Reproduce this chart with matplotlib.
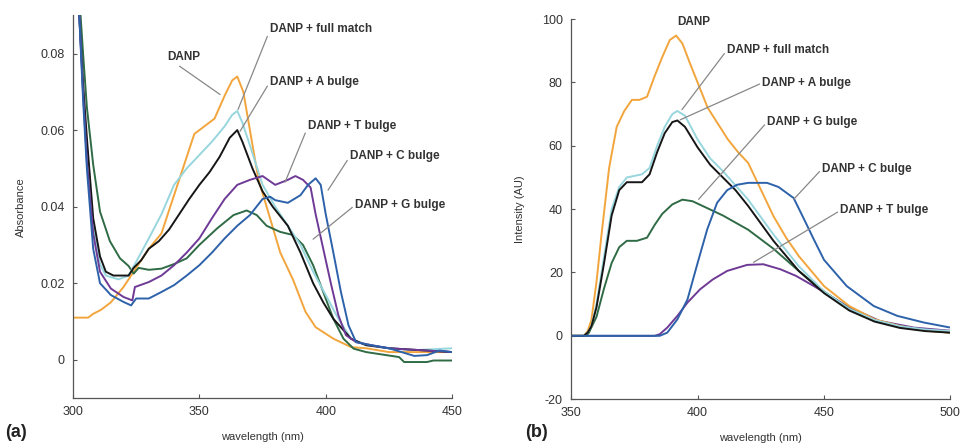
import matplotlib
matplotlib.use("Agg")
import matplotlib.pyplot as plt

plt.rcParams['font.family'] = ['Liberation Sans', 'DejaVu Sans']
plt.rcParams['axes.unicode_minus'] = False

#   Colours
C_DANP = "#F2A53C"
C_FULL = "#98D6DE"
C_ABUL = "#161616"
C_GBUL = "#2F6B45"
C_TBUL = "#6E3A96"
C_CBUL = "#2D62AA"
GRID_GREY = "#555555"

# (a) absorbance spectra
abs_wl_danp = [300, 306, 308, 311, 315, 320, 325, 330, 335, 337, 340, 345, 348, 352, 356, 360,
               363, 365, 367.4, 370, 373.4, 376.6, 382, 387, 392, 396, 403, 410, 416, 425, 450]
abs_danp = [0.011, 0.011, 0.012, 0.013, 0.015, 0.019, 0.024, 0.029, 0.033, 0.037, 0.043, 0.053,
            0.059, 0.061, 0.063, 0.069, 0.073, 0.074, 0.070, 0.060, 0.047, 0.040, 0.028, 0.021,
            0.0125, 0.0085, 0.0055, 0.0033, 0.003, 0.002, 0.002]

abs_wl_full = [300, 302.5, 304, 305.5, 308, 310.7, 313, 318, 322, 325, 330, 335, 340, 345, 350,
               355, 360, 363, 365, 367, 370, 375, 380, 385, 390, 395, 400, 405, 410, 415, 425,
               435, 450]
abs_full = [0.13, 0.09, 0.07, 0.056, 0.035, 0.025, 0.022, 0.021, 0.022, 0.0256, 0.0317, 0.038,
            0.0457, 0.050, 0.0535, 0.057, 0.061, 0.064, 0.065, 0.062, 0.056, 0.0457, 0.040,
            0.035, 0.030, 0.023, 0.0169, 0.0107, 0.0055, 0.004, 0.003, 0.0025, 0.003]

abs_wl_abul = [300, 302.5, 304, 305.5, 308, 310.7, 313, 316, 322, 324, 327, 330, 334, 338, 342,
               346, 350, 354, 358, 362, 365, 367, 371, 375, 379, 385, 390, 395, 399, 403, 410,
               416, 425, 450]
abs_abul = [0.13, 0.09, 0.072, 0.058, 0.037, 0.027, 0.023, 0.022, 0.022, 0.024, 0.026, 0.029,
            0.031, 0.034, 0.038, 0.042, 0.0457, 0.049, 0.053, 0.058, 0.060, 0.057, 0.050, 0.044,
            0.040, 0.035, 0.028, 0.020, 0.015, 0.0107, 0.0055, 0.0038, 0.003, 0.002]

abs_wl_gbul = [300, 302.5, 304, 305.5, 308, 310.7, 314.6, 318.6, 322, 324, 326, 330, 335, 340,
               345, 350, 357, 363.5, 368.7, 372.7, 376.6, 382, 387, 391, 395, 399, 403, 407,
               411, 416, 429, 431, 440, 442.6, 450]
abs_gbul = [0.13, 0.095, 0.08, 0.066, 0.051, 0.0387, 0.031, 0.0265, 0.0245, 0.0225, 0.024,
            0.0235, 0.0238, 0.025, 0.0265, 0.030, 0.0343, 0.0378, 0.039, 0.0378, 0.035, 0.0334,
            0.0326, 0.030, 0.0247, 0.0177, 0.0107, 0.0055, 0.0029, 0.002, 0.0007, -0.0006,
            -0.0006, -0.0002, -0.0002]

abs_wl_tbul = [300, 302.5, 304, 305.5, 308, 310.7, 315, 320, 323.5, 324.5, 330, 335, 340, 345,
               350, 355, 360, 365, 370, 375, 380, 385, 388, 391, 394, 396, 399, 402, 405, 408,
               412, 418, 425, 450]
abs_tbul = [0.13, 0.09, 0.07, 0.052, 0.033, 0.023, 0.0186, 0.0164, 0.0155, 0.019, 0.0203,
            0.022, 0.0247, 0.028, 0.0317, 0.037, 0.042, 0.0457, 0.047, 0.048, 0.0457, 0.047,
            0.048, 0.047, 0.045, 0.038, 0.029, 0.020, 0.0116, 0.0064, 0.0046, 0.0038, 0.003,
            0.002]

abs_wl_cbul = [300, 302.5, 304, 305.5, 308, 310.7, 315, 320, 323, 325, 330, 335, 340, 345, 350,
               355, 360, 365, 370, 375, 378, 380, 385, 390, 393, 396, 398, 400, 403, 406, 409,
               412, 418, 425, 430, 435, 440, 445, 450]
abs_cbul = [0.13, 0.09, 0.068, 0.05, 0.029, 0.020, 0.0169, 0.0151, 0.0142, 0.016, 0.016,
            0.0177, 0.0195, 0.022, 0.0247, 0.028, 0.0317, 0.035, 0.0378, 0.042, 0.0426, 0.0417,
            0.041, 0.043, 0.0457, 0.0474, 0.0457, 0.038, 0.028, 0.0177, 0.009, 0.0046, 0.0038,
            0.003, 0.002, 0.001, 0.0012, 0.0024, 0.002]

# (b) fluorescence emission spectra
fl_wl_danp = [350, 355, 356.5, 358, 360, 362, 365, 368, 371, 374, 377, 380, 383, 386, 389,
              391.5, 394, 397, 400, 404, 408, 412, 416, 420, 425, 430, 435, 440, 450, 460, 470,
              480, 490, 500]
fl_danp = [0, 0, 1.5, 5, 17, 32, 53, 66, 71, 74.5, 74.5, 75.5, 82, 88, 93.4, 94.8, 92.3, 86,
           80, 72, 67, 62, 58, 54.6, 46.2, 37.8, 31, 25.2, 15.7, 9.4, 5.2, 3.1, 1.6, 1.0]

fl_wl_full = [350, 355, 356.5, 358, 360, 363, 366, 369, 372, 375, 378, 381, 384, 387, 390, 392,
              395, 400, 405, 410, 415, 420, 425, 430, 440, 450, 460, 470, 480, 490, 500]
fl_full = [0, 0, 1, 3, 10, 25, 40, 47, 50, 50.5, 51, 53, 60, 66, 70, 71, 69.5, 62, 56, 52,
           47.5, 43, 37.5, 32, 22, 14, 8.5, 5, 3, 2, 1.5]

fl_wl_abul = [350, 355, 356.5, 358, 360, 363, 366, 369, 372, 375, 378, 381, 384, 387, 390, 392,
              395, 400, 405, 410, 415, 420, 425, 430, 440, 450, 460, 470, 480, 490, 500]
fl_abul = [0, 0, 1, 3, 9, 23, 38, 46, 48.5, 48.5, 48.5, 51, 58, 64, 67.5, 68, 66, 59.5, 54, 50,
           46, 41, 35.5, 30, 20.5, 13.5, 8, 4.5, 2.5, 1.5, 1]

fl_wl_gbul = [350, 356, 357, 360, 363, 366, 369, 372, 376, 380, 383, 386, 390, 394, 398, 402,
              410, 420, 430, 440, 450, 460, 470, 480, 490, 500]
fl_gbul = [0, 0, 1, 6, 15, 23, 28, 30, 30, 31, 35, 38.5, 41.5, 43, 42.5, 41, 38, 33.5, 27.5,
           20.5, 14, 8.5, 5, 3, 1.8, 1]

fl_wl_cbul = [350, 385, 388, 392, 396, 400, 403.8, 407.7, 411.7, 415.6, 420, 427.5, 432, 438,
              442, 446, 450, 459, 469.7, 479, 489.5, 500]
fl_cbul = [0, 0, 1, 5.2, 11.5, 23, 33.6, 42, 46, 47.7, 48.3, 48.3, 47, 43.5, 37, 30.4, 24,
           15.7, 9.4, 6.3, 4.2, 2.6]

fl_wl_tbul = [350, 383, 385, 388, 392, 396, 401, 406, 411.7, 419.6, 426, 432.8, 439, 446,
              452.5, 459, 472, 485.5, 500]
fl_tbul = [0, 0, 0.5, 2.6, 6.3, 10.5, 14.7, 17.8, 20.5, 22.4, 22.6, 21, 18.9, 15.7, 12.6, 9.4,
           4.7, 2.6, 1.6]

LABELS = ["DANP", "DANP + full match", "DANP + A bulge", "DANP + T bulge",
          "DANP + C bulge", "DANP + G bulge"]


def style_axes(ax):
    for side in ("top", "right"):
        ax.spines[side].set_visible(False)
    for side in ("left", "bottom"):
        ax.spines[side].set_color(GRID_GREY)
        ax.spines[side].set_linewidth(0.9)
    ax.tick_params(direction="in", length=3, width=0.8, color=GRID_GREY,
                   labelsize=9, labelcolor="#333333", pad=6)


def label(ax, text, xy, xytext):
    ax.annotate(text, xy=xy, xytext=xytext, fontsize=8.5, fontweight="bold",
                color="#333333", ha="left", va="center",
                arrowprops=dict(arrowstyle="-", color="#888888", lw=0.9,
                                shrinkA=0, shrinkB=0,
                                relpos=(0, 0.5)))


fig = plt.figure(figsize=(9.6, 4.45), dpi=100)

# ---- (a) ----
ax1 = fig.add_axes([0.076, 0.1056, 0.395, 0.86])
lw = 1.4
ax1.plot(abs_wl_danp, abs_danp, color=C_DANP, lw=lw)
ax1.plot(abs_wl_gbul, abs_gbul, color=C_GBUL, lw=lw)
ax1.plot(abs_wl_full, abs_full, color=C_FULL, lw=lw)
ax1.plot(abs_wl_abul, abs_abul, color=C_ABUL, lw=lw)
ax1.plot(abs_wl_tbul, abs_tbul, color=C_TBUL, lw=lw)
ax1.plot(abs_wl_cbul, abs_cbul, color=C_CBUL, lw=lw)
ax1.set_xlim(300, 450)
ax1.set_ylim(-0.01, 0.09)
ax1.set_xticks([300, 350, 400, 450])
ax1.set_yticks([0, 0.02, 0.04, 0.06, 0.08])
ax1.set_yticklabels(["0", "0.02", "0.04", "0.06", "0.08"])
style_axes(ax1)
ax1.set_xlabel("wavelength (nm)", fontsize=8, color="#333333", labelpad=10)
ax1.set_ylabel("Absorbance", fontsize=8, color="#333333", labelpad=10)

label(ax1, LABELS[0], (358.2, 0.0693), (337.2, 0.079))
label(ax1, LABELS[1], (365.3, 0.0654), (378, 0.0863))
label(ax1, LABELS[2], (366.1, 0.0597), (378, 0.0727))
label(ax1, LABELS[3], (383.9, 0.0464), (393, 0.061))
label(ax1, LABELS[4], (400.9, 0.0443), (409.6, 0.0532))
label(ax1, LABELS[5], (395, 0.0315), (411.6, 0.0404))

fig.text(0.005, 0.018, "(a)", fontsize=13, color="#222222", fontweight="bold")

# ---- (b) ----
ax2 = fig.add_axes([0.595, 0.103, 0.395, 0.854])
ax2.plot(fl_wl_tbul, fl_tbul, color=C_TBUL, lw=lw)
ax2.plot(fl_wl_gbul, fl_gbul, color=C_GBUL, lw=lw)
ax2.plot(fl_wl_danp, fl_danp, color=C_DANP, lw=lw)
ax2.plot(fl_wl_full, fl_full, color=C_FULL, lw=lw)
ax2.plot(fl_wl_abul, fl_abul, color=C_ABUL, lw=lw)
ax2.plot(fl_wl_cbul, fl_cbul, color=C_CBUL, lw=lw)
ax2.set_xlim(350, 500)
ax2.set_ylim(-20, 100)
ax2.set_xticks([350, 400, 450, 500])
ax2.set_yticks([-20, 0, 20, 40, 60, 80, 100])
style_axes(ax2)
ax2.set_xlabel("wavelength (nm)", fontsize=8, color="#333333", labelpad=10)
ax2.set_ylabel("Intensity (AU)", fontsize=8, color="#333333", labelpad=12)

ax2.text(392, 99, LABELS[0], fontsize=8.5, fontweight="bold", color="#333333",
         ha="left", va="center")
label(ax2, LABELS[1], (393.8, 71.4), (411.7, 90.3))
label(ax2, LABELS[2], (393.1, 68.2), (425.6, 79.9))
label(ax2, LABELS[5], (400.4, 43.1), (427.6, 67.6))
label(ax2, LABELS[4], (438, 43.1), (449.3, 52.8))
label(ax2, LABELS[3], (422.1, 23.2), (456.5, 39.6))

fig.text(0.547, 0.018, "(b)", fontsize=13, color="#222222", fontweight="bold")

fig.savefig("out.png", dpi=100)
